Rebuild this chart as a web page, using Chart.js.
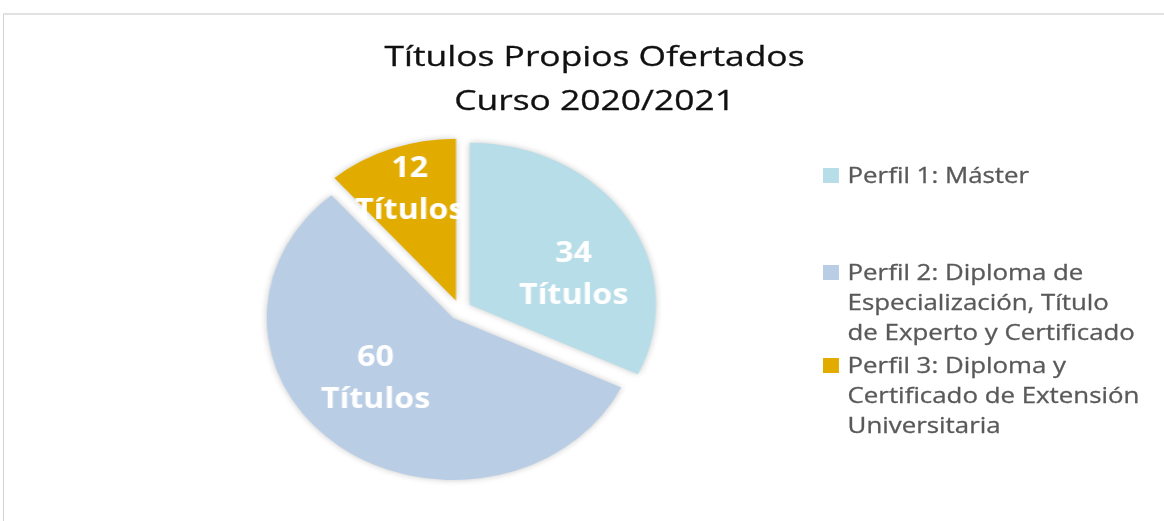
<!DOCTYPE html>
<html>
<head>
<meta charset="utf-8">
<script src="https://cdn.jsdelivr.net/npm/chart.js@4"></script>
<style>
  html, body { margin: 0; padding: 0; background: #fff; }
  body { width: 1164px; height: 521px; overflow: hidden; position: relative; font-family: 'Open Sans', sans-serif; }
  #frame { position: absolute; left: 3px; top: 13px; width: 1200px; height: 600px; border-top: 2px solid #e2e2e2; border-left: 1px solid #d4d4d4; }
  #stage { position: absolute; left: 0; top: 0; width: 1012px; height: 521px; transform: scaleX(1.15); transform-origin: 0 0; }
  #chartBox { position: absolute; left: 0; top: 0; width: 1012px; height: 521px; }
  #title { position: absolute; left: 217px; top: 34px; width: 600px; text-align: center; font-size: 27px; line-height: 44px; color: #111;
           transform: scaleX(1.14); -webkit-text-stroke: 0.3px #111; }
  #legend { position: absolute; left: 737px; top: 160px; width: 260px; transform: scaleX(1.07); transform-origin: 0 0; }
  .item { position: relative; font-size: 21px; line-height: 30px; color: #595959; white-space: nowrap; -webkit-text-stroke: 0.3px #595959; }
  .item:nth-child(2) { margin-top: 67px; }
  .item:nth-child(3) { margin-top: 3px; }
  .item .box { position: absolute; left: -20px; top: 8px; width: 13px; height: 15px; }
</style>
</head>
<body>
<div id="frame"></div>
<div id="stage">
  <div id="chartBox"><canvas id="propiosChart"></canvas></div>
  <div id="title"></div>
  <div id="legend"></div>
</div>
<script>
const titleLines = ['Títulos Propios Ofertados', 'Curso 2020/2021'];
const perfiles = [
  ['Perfil 1: Máster'],
  ['Perfil 2: Diploma de', 'Especialización, Título', 'de Experto y Certificado'],
  ['Perfil 3: Diploma y', 'Certificado de Extensión', 'Universitaria']
];
const titulos = [34, 60, 12];
const unitLabel = 'Títulos';
const colores = ['#B7DDE8', '#B9CDE5', '#E1AB00'];

// where each label sits inside its slice (fraction of radius, angle nudge in degrees)
const labelPlace = [
  { r: 0.653, turn: 11.3 },
  { r: 0.61, turn: 10.7 },
  { r: 0.805, turn: 0.8 }
];
const explode = 10;

document.getElementById('title').innerHTML = titleLines.join('<br>');

const legend = document.getElementById('legend');
perfiles.forEach((lines, i) => {
  const item = document.createElement('div');
  item.className = 'item';
  item.innerHTML = '<span class="box" style="background:' + colores[i] + '"></span>' + lines.join('<br>');
  legend.appendChild(item);
});

// pulls every slice out from the centre, with a soft shadow like the original
const explodedSlices = {
  id: 'explodedSlices',
  beforeDatasetDraw(chart, args) {
    const ctx = chart.ctx;
    ctx.save();
    ctx.shadowColor = 'rgba(0,0,0,0.22)';
    ctx.shadowBlur = 6;
    args.meta.data.forEach(arc => {
      const mid = (arc.startAngle + arc.endAngle) / 2;
      ctx.save();
      ctx.translate(Math.cos(mid) * explode, Math.sin(mid) * explode);
      arc.draw(ctx, chart.chartArea);
      ctx.restore();
    });
    ctx.restore();
    return false;
  }
};

const sliceLabels = {
  id: 'sliceLabels',
  afterDraw(chart) {
    const ctx = chart.ctx;
    const meta = chart.getDatasetMeta(0);
    ctx.save();
    ctx.fillStyle = '#fff';
    ctx.font = 'bold 28px "Open Sans"';
    ctx.textAlign = 'center';
    ctx.textBaseline = 'middle';
    meta.data.forEach((arc, i) => {
      const p = arc.getProps(['x', 'y', 'startAngle', 'endAngle', 'outerRadius'], true);
      const place = labelPlace[i];
      const mid = (p.startAngle + p.endAngle) / 2 + place.turn * Math.PI / 180;
      const cx = p.x + Math.cos(mid) * p.outerRadius * place.r;
      const cy = p.y + Math.sin(mid) * p.outerRadius * place.r;
      ctx.fillText(String(chart.data.datasets[0].data[i]), cx, cy - 18);
      ctx.fillText(unitLabel, cx, cy + 24);
    });
    ctx.restore();
  }
};

const propiosChart = document.getElementById('propiosChart');

new Chart(propiosChart, {
  type: 'pie',
  data: {
    labels: perfiles,
    datasets: [{
      data: titulos,
      backgroundColor: colores,
      borderWidth: 0,
      radius: 162
    }]
  },
  options: {
    responsive: true,
    maintainAspectRatio: false,
    animation: false,
    layout: {
      padding: { left: 0, right: 212, top: 140, bottom: 41 }
    },
    plugins: {
      legend: { display: false },
      tooltip: { enabled: false }
    }
  },
  plugins: [explodedSlices, sliceLabels]
});
</script>
</body>
</html>
